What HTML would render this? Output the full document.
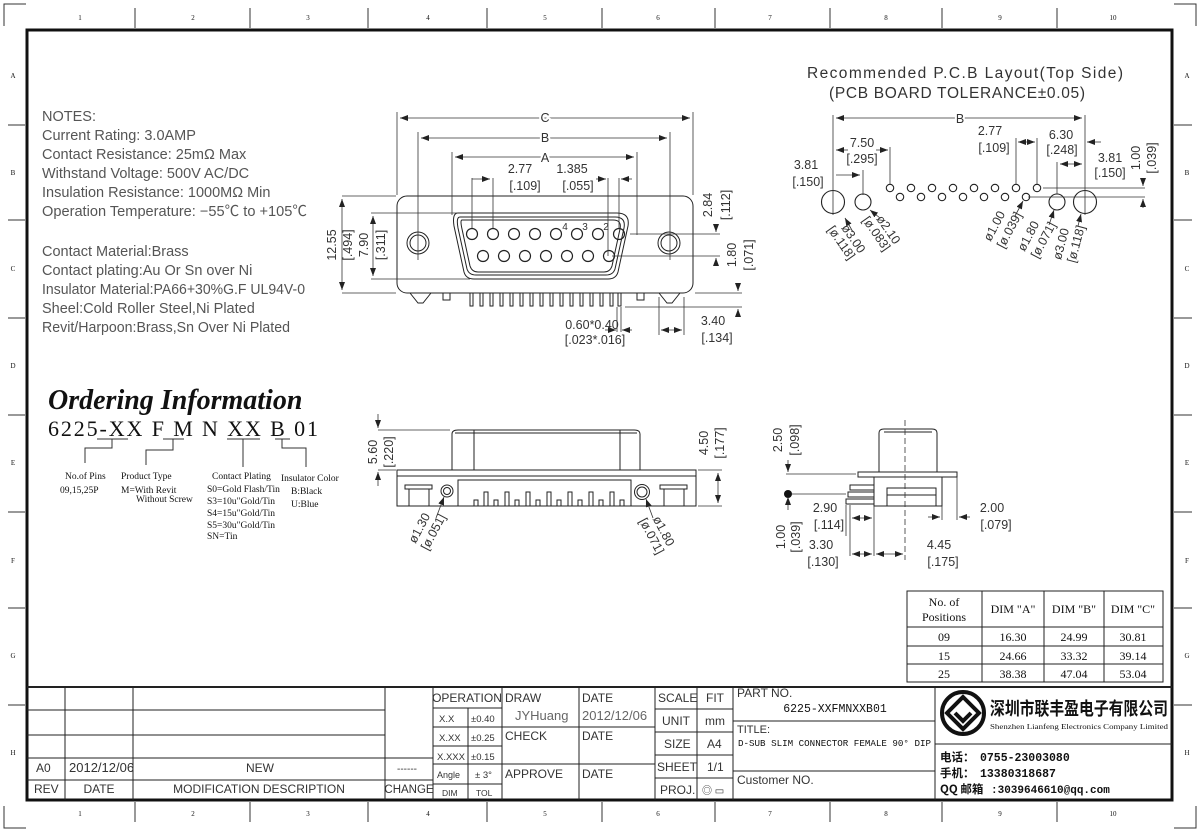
<!DOCTYPE html>
<html><head><meta charset="utf-8"><style>
html,body{margin:0;padding:0;background:#fff}
svg{display:block}
text{font-family:"Liberation Sans","Noto Sans CJK SC",sans-serif;fill:#333}
.s{font-family:"Liberation Serif","Noto Serif CJK SC",serif;fill:#111}
.m{font-family:"Liberation Mono","Noto Sans CJK SC",monospace;fill:#111}
</style></head><body>
<svg width="1200" height="832" viewBox="0 0 1200 832" xmlns="http://www.w3.org/2000/svg">
<defs><marker id="a" markerWidth="8" markerHeight="6" refX="8" refY="3" orient="auto-start-reverse" markerUnits="userSpaceOnUse"><path d="M0,0L8,3L0,6z" fill="#222"/></marker></defs>
<rect x="0" y="0" width="1200" height="832" fill="#fff"/>
<rect x="27" y="30" width="1145" height="770" fill="none" stroke="#111" stroke-width="3"/>
<g stroke="#333" stroke-width="1">
<line x1="135" y1="8" x2="135" y2="28"/><line x1="250" y1="8" x2="250" y2="28"/><line x1="368" y1="8" x2="368" y2="28"/><line x1="487" y1="8" x2="487" y2="28"/><line x1="602" y1="8" x2="602" y2="28"/><line x1="715" y1="8" x2="715" y2="28"/><line x1="830" y1="8" x2="830" y2="28"/><line x1="942" y1="8" x2="942" y2="28"/><line x1="1057" y1="8" x2="1057" y2="28"/>
<line x1="135" y1="802" x2="135" y2="822"/><line x1="250" y1="802" x2="250" y2="822"/><line x1="368" y1="802" x2="368" y2="822"/><line x1="487" y1="802" x2="487" y2="822"/><line x1="602" y1="802" x2="602" y2="822"/><line x1="715" y1="802" x2="715" y2="822"/><line x1="830" y1="802" x2="830" y2="822"/><line x1="942" y1="802" x2="942" y2="822"/><line x1="1057" y1="802" x2="1057" y2="822"/>
<line x1="8" y1="125" x2="25" y2="125"/><line x1="8" y1="220" x2="25" y2="220"/><line x1="8" y1="318" x2="25" y2="318"/><line x1="8" y1="415" x2="25" y2="415"/><line x1="8" y1="512" x2="25" y2="512"/><line x1="8" y1="608" x2="25" y2="608"/><line x1="8" y1="705" x2="25" y2="705"/>
<line x1="1174" y1="125" x2="1192" y2="125"/><line x1="1174" y1="220" x2="1192" y2="220"/><line x1="1174" y1="318" x2="1192" y2="318"/><line x1="1174" y1="415" x2="1192" y2="415"/><line x1="1174" y1="512" x2="1192" y2="512"/><line x1="1174" y1="608" x2="1192" y2="608"/><line x1="1174" y1="705" x2="1192" y2="705"/>
<polyline points="4,26 4,4 26,4" fill="none"/><polyline points="1174,4 1196,4 1196,26" fill="none"/><polyline points="4,806 4,828 26,828" fill="none"/><polyline points="1174,828 1196,828 1196,806" fill="none"/>
</g>
<g font-size="7" text-anchor="middle" class="s">
<text class="s" x="80" y="20">1</text><text class="s" x="193" y="20">2</text><text class="s" x="308" y="20">3</text><text class="s" x="428" y="20">4</text><text class="s" x="545" y="20">5</text><text class="s" x="658" y="20">6</text><text class="s" x="770" y="20">7</text><text class="s" x="886" y="20">8</text><text class="s" x="1000" y="20">9</text><text class="s" x="1113" y="20">10</text>
<text class="s" x="80" y="816">1</text><text class="s" x="193" y="816">2</text><text class="s" x="308" y="816">3</text><text class="s" x="428" y="816">4</text><text class="s" x="545" y="816">5</text><text class="s" x="658" y="816">6</text><text class="s" x="770" y="816">7</text><text class="s" x="886" y="816">8</text><text class="s" x="1000" y="816">9</text><text class="s" x="1113" y="816">10</text>
<text class="s" x="13" y="78">A</text><text class="s" x="13" y="175">B</text><text class="s" x="13" y="271">C</text><text class="s" x="13" y="368">D</text><text class="s" x="13" y="465">E</text><text class="s" x="13" y="563">F</text><text class="s" x="13" y="658">G</text><text class="s" x="13" y="755">H</text>
<text class="s" x="1187" y="78">A</text><text class="s" x="1187" y="175">B</text><text class="s" x="1187" y="271">C</text><text class="s" x="1187" y="368">D</text><text class="s" x="1187" y="465">E</text><text class="s" x="1187" y="563">F</text><text class="s" x="1187" y="658">G</text><text class="s" x="1187" y="755">H</text>
</g>

<g font-size="14.5" style="fill:#555">
<text x="42" y="121" style="fill:#555">NOTES:</text>
<text x="42" y="140" style="fill:#555">Current Rating: 3.0AMP</text>
<text x="42" y="159" style="fill:#555">Contact Resistance: 25mΩ Max</text>
<text x="42" y="178" style="fill:#555">Withstand Voltage: 500V AC/DC</text>
<text x="42" y="197" style="fill:#555">Insulation Resistance: 1000MΩ Min</text>
<text x="42" y="216" style="fill:#555" textLength="265" lengthAdjust="spacingAndGlyphs">Operation Temperature: −55℃ to +105℃</text>
<text x="42" y="256" style="fill:#555">Contact Material:Brass</text>
<text x="42" y="275" style="fill:#555">Contact plating:Au Or Sn over Ni</text>
<text x="42" y="294" style="fill:#555" textLength="263" lengthAdjust="spacingAndGlyphs">Insulator Material:PA66+30%G.F UL94V-0</text>
<text x="42" y="313" style="fill:#555">Sheel:Cold Roller Steel,Ni Plated</text>
<text x="42" y="332" style="fill:#555" textLength="248" lengthAdjust="spacingAndGlyphs">Revit/Harpoon:Brass,Sn Over Ni Plated</text>
</g>

<text class="s" x="48" y="409" font-size="28" font-weight="bold" font-style="italic">Ordering Information</text>
<text class="s" x="48" y="436" font-size="22" textLength="270" lengthAdjust="spacing">6225-XX F M N XX B 01</text>
<g stroke="#333" fill="none" stroke-width="1">
<line x1="97" y1="439" x2="128" y2="439"/><line x1="163" y1="439" x2="184" y2="439"/><line x1="227" y1="439" x2="260" y2="439"/><line x1="275" y1="439" x2="290" y2="439"/>
<polyline points="112,439 112,448 85,448 85,463"/><polyline points="173,439 173,450 146,450 146,465"/><polyline points="243,439 243,467"/><polyline points="282,439 282,448 306,448 306,467"/>
</g>
<g class="s" font-size="9.5">
<text class="s" x="65" y="479">No.of Pins</text><text class="s" x="60" y="493">09,15,25P</text>
<text class="s" x="121" y="479">Product Type</text><text class="s" x="121" y="493">M=With Revit</text><text class="s" x="136" y="502">Without Screw</text>
<text class="s" x="212" y="479">Contact Plating</text><text class="s" x="207" y="492">S0=Gold Flash/Tin</text><text class="s" x="207" y="504">S3=10u"Gold/Tin</text><text class="s" x="207" y="516">S4=15u"Gold/Tin</text><text class="s" x="207" y="528">S5=30u"Gold/Tin</text><text class="s" x="207" y="539">SN=Tin</text>
<text class="s" x="281" y="481">Insulator Color</text><text class="s" x="291" y="494">B:Black</text><text class="s" x="291" y="507">U:Blue</text>
</g>

<g stroke="#222" fill="none" stroke-width="1">
<rect x="397" y="196" width="296" height="97" rx="10"/>
<circle cx="418" cy="243" r="11"/><circle cx="418" cy="243" r="8"/>
<circle cx="669" cy="243" r="11"/><circle cx="669" cy="243" r="8"/>
<path d="M458,213 L617,213 Q630,213 628,226 L618,272 Q616,279 608,279 L474,279 Q466,279 464,272 L454,226 Q452,213 458,213Z"/>
<path d="M460,217 L615,217 Q626,217 624,228 L615,269 Q613,275 606,275 L476,275 Q469,275 467,269 L458,228 Q456,217 460,217Z"/>
<path d="M462,220 L613,220 Q622,220 620,229 L612,266 Q610,272 604,272 L478,272 Q472,272 470,266 L462,229 Q460,220 462,220Z"/>
<g stroke-width="1.2">
<circle cx="472" cy="234" r="5.5"/><circle cx="493" cy="234" r="5.5"/><circle cx="514" cy="234" r="5.5"/><circle cx="535" cy="234" r="5.5"/><circle cx="556" cy="234" r="5.5"/><circle cx="577" cy="234" r="5.5"/><circle cx="598" cy="234" r="5.5"/><circle cx="619" cy="234" r="5.5"/>
<circle cx="483" cy="256" r="5.5"/><circle cx="504" cy="256" r="5.5"/><circle cx="525" cy="256" r="5.5"/><circle cx="546" cy="256" r="5.5"/><circle cx="567" cy="256" r="5.5"/><circle cx="588" cy="256" r="5.5"/><circle cx="609" cy="256" r="5.5"/>
</g>
<path d="M410,293 L418,303 L423,303 L431,293"/><path d="M659,293 L667,303 L672,303 L680,293"/>
<rect x="443" y="293" width="7" height="7"/><rect x="637" y="293" width="7" height="7"/>
<path d="M470,293 v13 h3 v-13 M480,293 v13 h3 v-13 M490,293 v13 h3 v-13 M500,293 v13 h3 v-13 M510,293 v13 h3 v-13 M520,293 v13 h3 v-13 M530,293 v13 h3 v-13 M540,293 v13 h3 v-13 M550,293 v13 h3 v-13 M560,293 v13 h3 v-13 M570,293 v13 h3 v-13 M580,293 v13 h3 v-13 M590,293 v13 h3 v-13 M600,293 v13 h3 v-13 M610,293 v13 h3 v-13 M618,293 v13 h3 v-13"/>
</g>
<g stroke="#333" stroke-width="0.8" fill="none">
<line x1="397" y1="112" x2="397" y2="195"/><line x1="693" y1="112" x2="693" y2="195"/>
<line x1="418" y1="132" x2="418" y2="260"/><line x1="670" y1="132" x2="670" y2="260"/>
<line x1="452" y1="152" x2="452" y2="215"/><line x1="637" y1="152" x2="637" y2="235"/>
<line x1="400" y1="118" x2="690" y2="118" marker-start="url(#a)" marker-end="url(#a)"/>
<line x1="421" y1="138" x2="667" y2="138" marker-start="url(#a)" marker-end="url(#a)"/>
<line x1="455" y1="157" x2="634" y2="157" marker-start="url(#a)" marker-end="url(#a)"/>
<line x1="472" y1="178" x2="472" y2="228"/><line x1="493" y1="178" x2="493" y2="228"/>
<line x1="472" y1="179" x2="490" y2="179" marker-end="url(#a)"/>
<line x1="608" y1="178" x2="608" y2="256"/><line x1="619" y1="178" x2="619" y2="228"/>
<line x1="596" y1="179" x2="606" y2="179" marker-end="url(#a)"/><line x1="632" y1="179" x2="621" y2="179" marker-end="url(#a)"/>
<line x1="342" y1="196" x2="396" y2="196"/><line x1="342" y1="293" x2="396" y2="293"/>
<line x1="342" y1="199" x2="342" y2="290" marker-start="url(#a)" marker-end="url(#a)"/>
<line x1="371" y1="213" x2="458" y2="213"/><line x1="371" y1="279" x2="470" y2="279"/>
<line x1="373" y1="216" x2="373" y2="276" marker-start="url(#a)" marker-end="url(#a)"/>
<line x1="630" y1="234" x2="720" y2="234"/><line x1="612" y1="256" x2="720" y2="256"/>
<line x1="716" y1="226" x2="716" y2="232" marker-end="url(#a)"/><line x1="716" y1="264" x2="716" y2="258" marker-end="url(#a)"/>
<line x1="695" y1="293" x2="742" y2="293"/><line x1="625" y1="307" x2="742" y2="307"/>
<line x1="738" y1="285" x2="738" y2="291" marker-end="url(#a)"/><line x1="738" y1="316" x2="738" y2="309" marker-end="url(#a)"/>
<line x1="617" y1="307" x2="617" y2="332"/><line x1="621" y1="307" x2="621" y2="332"/>
<line x1="605" y1="330" x2="616" y2="330" marker-end="url(#a)"/><line x1="632" y1="330" x2="622" y2="330" marker-end="url(#a)"/>
<line x1="659" y1="297" x2="659" y2="335"/><line x1="684" y1="297" x2="684" y2="335"/>
<line x1="661" y1="330" x2="682" y2="330" marker-start="url(#a)" marker-end="url(#a)"/>
</g>
<g font-size="12.5" text-anchor="middle">
<text x="545" y="122" style="paint-order:stroke" stroke="#fff" stroke-width="4">C</text>
<text x="545" y="142" style="paint-order:stroke" stroke="#fff" stroke-width="4">B</text>
<text x="545" y="162" style="paint-order:stroke" stroke="#fff" stroke-width="4">A</text>
<text x="520" y="173">2.77</text><text x="525" y="190">[.109]</text>
<text x="572" y="173">1.385</text><text x="578" y="190">[.055]</text>
<text x="592" y="329">0.60*0.40</text><text x="595" y="344">[.023*.016]</text>
<text x="713" y="325">3.40</text><text x="717" y="342">[.134]</text>
<text x="565" y="230" font-size="10">4</text><text x="585" y="230" font-size="10">3</text><text x="606" y="230" font-size="10">2</text>
<text transform="translate(336,245) rotate(-90)">12.55</text><text transform="translate(352,245) rotate(-90)">[.494]</text>
<text transform="translate(368,245) rotate(-90)">7.90</text><text transform="translate(385,245) rotate(-90)">[.311]</text>
<text transform="translate(712,205) rotate(-90)">2.84</text><text transform="translate(730,205) rotate(-90)">[.112]</text>
<text transform="translate(736,255) rotate(-90)">1.80</text><text transform="translate(753,255) rotate(-90)">[.071]</text>
</g>

<g font-size="15.5" text-anchor="middle">
<text x="965" y="78" textLength="316" lengthAdjust="spacing">Recommended P.C.B Layout(Top Side)</text>
<text x="957" y="98" textLength="256" lengthAdjust="spacing">(PCB BOARD TOLERANCE±0.05)</text>
</g>
<g stroke="#222" fill="none" stroke-width="1.1">
<circle cx="833" cy="202" r="11.5"/><circle cx="863" cy="202" r="8"/>
<circle cx="890" cy="188" r="3.7"/><circle cx="900" cy="197" r="3.7"/><circle cx="911" cy="188" r="3.7"/><circle cx="921" cy="197" r="3.7"/><circle cx="932" cy="188" r="3.7"/><circle cx="942" cy="197" r="3.7"/><circle cx="953" cy="188" r="3.7"/><circle cx="963" cy="197" r="3.7"/><circle cx="974" cy="188" r="3.7"/><circle cx="984" cy="197" r="3.7"/><circle cx="995" cy="188" r="3.7"/><circle cx="1005" cy="197" r="3.7"/><circle cx="1016" cy="188" r="3.7"/><circle cx="1026" cy="197" r="3.7"/><circle cx="1037" cy="188" r="3.7"/>
<circle cx="1057" cy="202" r="8"/><circle cx="1085" cy="202" r="11.5"/>
</g>
<g stroke="#333" stroke-width="0.8" fill="none">
<line x1="833" y1="115" x2="833" y2="215"/><line x1="1085" y1="115" x2="1085" y2="215"/>
<line x1="836" y1="118" x2="1082" y2="118" marker-start="url(#a)" marker-end="url(#a)"/>
<line x1="863" y1="170" x2="863" y2="195"/><line x1="836" y1="175" x2="860" y2="175" marker-end="url(#a)"/>
<line x1="890" y1="147" x2="890" y2="184"/><line x1="836" y1="150" x2="848" y2="150" marker-start="url(#a)"/><line x1="876" y1="150" x2="888" y2="150" marker-end="url(#a)"/>
<line x1="1016" y1="138" x2="1016" y2="184"/><line x1="1037" y1="138" x2="1037" y2="184"/>
<line x1="1018" y1="142" x2="1035" y2="142" marker-start="url(#a)" marker-end="url(#a)"/>
<line x1="1101" y1="142" x2="1087" y2="142" marker-end="url(#a)"/>
<line x1="1057" y1="162" x2="1057" y2="194"/><line x1="1060" y1="164" x2="1082" y2="164" marker-start="url(#a)" marker-end="url(#a)"/>
<line x1="1043" y1="188" x2="1145" y2="188"/><line x1="1028" y1="197" x2="1145" y2="197"/>
<line x1="1143" y1="178" x2="1143" y2="186" marker-end="url(#a)"/><line x1="1143" y1="208" x2="1143" y2="199" marker-end="url(#a)"/>
<line x1="845" y1="218" x2="853" y2="232" marker-start="url(#a)"/><line x1="870" y1="210" x2="880" y2="218" marker-start="url(#a)"/>
<line x1="1023" y1="201" x2="1015" y2="216" marker-start="url(#a)"/><line x1="1054" y1="210" x2="1049" y2="225" marker-start="url(#a)"/><line x1="1081" y1="214" x2="1078" y2="226" marker-start="url(#a)"/>
</g>
<g font-size="12.5" text-anchor="middle">
<text x="960" y="123" style="paint-order:stroke" stroke="#fff" stroke-width="4">B</text>
<text x="862" y="147">7.50</text><text x="862" y="163">[.295]</text>
<text x="806" y="169">3.81</text><text x="808" y="186">[.150]</text>
<text x="990" y="135">2.77</text><text x="994" y="152">[.109]</text>
<text x="1061" y="139">6.30</text><text x="1062" y="154">[.248]</text>
<text x="1110" y="162">3.81</text><text x="1110" y="177">[.150]</text>
<text transform="translate(1140,158) rotate(-90)">1.00</text><text transform="translate(1156,158) rotate(-90)">[.039]</text>
<text transform="translate(850,241) rotate(55)">ø3.00</text><text transform="translate(838,245) rotate(55)">[ø.118]</text>
<text transform="translate(885,232) rotate(55)">ø2.10</text><text transform="translate(873,236) rotate(55)">[ø.083]</text>
<text transform="translate(998,228) rotate(-62)">ø1.00</text><text transform="translate(1013,232) rotate(-62)">[ø.039]</text>
<text transform="translate(1032,238) rotate(-62)">ø1.80</text><text transform="translate(1047,242) rotate(-62)">[ø.071]</text>
<text transform="translate(1065,245) rotate(-75)">ø3.00</text><text transform="translate(1080,245) rotate(-75)">[ø.118]</text>
</g>

<g stroke="#222" fill="none" stroke-width="1">
<path d="M452,470 V434 Q452,430 458,430 H634 Q640,430 640,434 V470"/>
<line x1="455" y1="433" x2="637" y2="433"/><line x1="474" y1="430" x2="474" y2="470"/><line x1="620" y1="430" x2="620" y2="470"/>
<rect x="397" y="470" width="299" height="6"/><rect x="397" y="476" width="299" height="30"/>
<rect x="405" y="485" width="27" height="4"/><rect x="409" y="489" width="20" height="17"/>
<rect x="660" y="485" width="27" height="4"/><rect x="664" y="489" width="20" height="17"/>
<circle cx="447" cy="491" r="6"/><circle cx="447" cy="491" r="3.5"/>
<circle cx="642" cy="492" r="7.5"/><circle cx="642" cy="492" r="5"/>
<rect x="458" y="480" width="173" height="26"/>
<path d="M474,506v-6h4v6 M484,506v-14h4v14 M494,506v-6h4v6 M505,506v-14h4v14 M515,506v-6h4v6 M526,506v-14h4v14 M536,506v-6h4v6 M547,506v-14h4v14 M557,506v-6h4v6 M568,506v-14h4v14 M578,506v-6h4v6 M589,506v-14h4v14 M599,506v-6h4v6 M610,506v-14h4v14 M620,506v-6h4v6"/>
</g>
<g stroke="#333" stroke-width="0.8" fill="none">
<line x1="378" y1="430" x2="450" y2="430"/><line x1="378" y1="470" x2="396" y2="470"/>
<line x1="378" y1="414" x2="378" y2="428" marker-end="url(#a)"/><line x1="378" y1="486" x2="378" y2="472" marker-end="url(#a)"/>
<line x1="698" y1="470" x2="722" y2="470"/><line x1="698" y1="506" x2="722" y2="506"/>
<line x1="718" y1="473" x2="718" y2="503" marker-start="url(#a)" marker-end="url(#a)"/>
<line x1="444" y1="497" x2="436" y2="518" marker-start="url(#a)"/><line x1="646" y1="499" x2="653" y2="518" marker-start="url(#a)"/>
</g>
<g font-size="12.5" text-anchor="middle">
<text transform="translate(377,452) rotate(-90)">5.60</text><text transform="translate(393,452) rotate(-90)">[.220]</text>
<text transform="translate(708,443) rotate(-90)">4.50</text><text transform="translate(724,443) rotate(-90)">[.177]</text>
<text transform="translate(423,530) rotate(-62)">ø1.30</text><text transform="translate(437,534) rotate(-62)">[ø.051]</text>
<text transform="translate(660,533) rotate(62)">ø1.80</text><text transform="translate(648,538) rotate(62)">[ø.071]</text>
</g>

<g stroke="#222" fill="none" stroke-width="1">
<path d="M879,472 V433 Q879,429 884,429 H932 Q937,429 937,433 V472"/>
<line x1="884" y1="432" x2="932" y2="432"/>
<rect x="858" y="472" width="99" height="5"/>
<rect x="874" y="477" width="68" height="29"/>
<rect x="887" y="488" width="49" height="18"/><line x1="887" y1="495" x2="936" y2="495"/>
<path d="M874,485 H850 V490 H874 M874,492 H848 V497 H874 M874,499 H846 V504 H874"/>
</g>
<circle cx="788" cy="494" r="4" fill="#111"/>
<g stroke="#333" stroke-width="0.8" fill="none">
<line x1="905" y1="420" x2="905" y2="560" stroke-dasharray="6,3"/>
<line x1="786" y1="474" x2="856" y2="474"/><line x1="792" y1="494" x2="846" y2="494"/>
<line x1="788" y1="460" x2="788" y2="472" marker-end="url(#a)"/><line x1="788" y1="510" x2="788" y2="497" marker-end="url(#a)"/>
<line x1="850" y1="505" x2="850" y2="556"/><line x1="874" y1="506" x2="874" y2="556"/><line x1="846" y1="505" x2="846" y2="536"/>
<line x1="852" y1="518" x2="872" y2="518" marker-start="url(#a)" marker-end="url(#a)"/>
<line x1="852" y1="554" x2="872" y2="554" marker-start="url(#a)" marker-end="url(#a)"/>
<line x1="876" y1="554" x2="903" y2="554" marker-start="url(#a)" marker-end="url(#a)"/>
<line x1="942" y1="506" x2="942" y2="520"/><line x1="957" y1="477" x2="957" y2="520"/>
<line x1="928" y1="517" x2="940" y2="517" marker-end="url(#a)"/><line x1="970" y1="517" x2="959" y2="517" marker-end="url(#a)"/>
</g>
<g font-size="12.5" text-anchor="middle">
<text transform="translate(782,440) rotate(-90)">2.50</text><text transform="translate(799,440) rotate(-90)">[.098]</text>
<text x="825" y="512">2.90</text><text x="829" y="529">[.114]</text>
<text transform="translate(785,537) rotate(-90)">1.00</text><text transform="translate(800,537) rotate(-90)">[.039]</text>
<text x="821" y="549">3.30</text><text x="823" y="566">[.130]</text>
<text x="939" y="549">4.45</text><text x="943" y="566">[.175]</text>
<text x="992" y="512">2.00</text><text x="996" y="529">[.079]</text>
</g>

<g stroke="#222" stroke-width="1" fill="none">
<rect x="907" y="591" width="256" height="91"/>
<line x1="982" y1="591" x2="982" y2="682"/><line x1="1044" y1="591" x2="1044" y2="682"/><line x1="1104" y1="591" x2="1104" y2="682"/>
<line x1="907" y1="627" x2="1163" y2="627"/><line x1="907" y1="646" x2="1163" y2="646"/><line x1="907" y1="664" x2="1163" y2="664"/>
</g>
<g class="s" font-size="12" text-anchor="middle">
<text class="s" x="944" y="606">No. of</text><text class="s" x="944" y="621">Positions</text>
<text class="s" x="1013" y="613">DIM "A"</text><text class="s" x="1074" y="613">DIM "B"</text><text class="s" x="1133" y="613">DIM "C"</text>
<text class="s" x="944" y="641">09</text><text class="s" x="1013" y="641">16.30</text><text class="s" x="1074" y="641">24.99</text><text class="s" x="1133" y="641">30.81</text>
<text class="s" x="944" y="660">15</text><text class="s" x="1013" y="660">24.66</text><text class="s" x="1074" y="660">33.32</text><text class="s" x="1133" y="660">39.14</text>
<text class="s" x="944" y="678">25</text><text class="s" x="1013" y="678">38.38</text><text class="s" x="1074" y="678">47.04</text><text class="s" x="1133" y="678">53.04</text>
</g>

<g stroke="#222" stroke-width="1" fill="none">
<line x1="27" y1="687" x2="1172" y2="687" stroke-width="2"/>
<line x1="65" y1="687" x2="65" y2="800"/><line x1="133" y1="687" x2="133" y2="800"/><line x1="385" y1="687" x2="385" y2="800"/><line x1="433" y1="687" x2="433" y2="800"/>
<line x1="27" y1="710" x2="385" y2="710"/><line x1="27" y1="735" x2="385" y2="735"/><line x1="27" y1="758" x2="433" y2="758"/><line x1="27" y1="780" x2="433" y2="780"/>
<line x1="502" y1="687" x2="502" y2="800"/><line x1="468" y1="708" x2="468" y2="800"/>
<line x1="433" y1="708" x2="502" y2="708"/><line x1="433" y1="727" x2="502" y2="727"/><line x1="433" y1="746" x2="502" y2="746"/><line x1="433" y1="764" x2="502" y2="764"/><line x1="433" y1="784" x2="502" y2="784"/>
<line x1="579" y1="687" x2="579" y2="800"/><line x1="655" y1="687" x2="655" y2="800"/>
<line x1="502" y1="727" x2="655" y2="727"/><line x1="502" y1="764" x2="655" y2="764"/>
<line x1="697" y1="687" x2="697" y2="800"/><line x1="733" y1="687" x2="733" y2="800"/>
<line x1="655" y1="709" x2="733" y2="709"/><line x1="655" y1="732" x2="733" y2="732"/><line x1="655" y1="755" x2="733" y2="755"/><line x1="655" y1="778" x2="733" y2="778"/>
<line x1="733" y1="721" x2="935" y2="721"/><line x1="733" y1="771" x2="935" y2="771"/>
<line x1="935" y1="687" x2="935" y2="800"/><line x1="935" y1="744" x2="1172" y2="744"/>
</g>
<g font-size="12">
<text x="36" y="772">A0</text><text x="69" y="772" font-size="13">2012/12/06</text><text x="260" y="772" text-anchor="middle">NEW</text><text x="397" y="772" font-size="10">------</text>
<text x="34" y="793">REV</text><text x="99" y="793" text-anchor="middle">DATE</text><text x="259" y="793" text-anchor="middle">MODIFICATION  DESCRIPTION</text><text x="409" y="793" text-anchor="middle" font-size="11.5">CHANGE</text>
<text x="467" y="702" text-anchor="middle">OPERATION</text>
<text x="439" y="722" font-size="9.5">X.X</text><text x="471" y="722" font-size="9.5">±0.40</text>
<text x="439" y="741" font-size="9.5">X.XX</text><text x="471" y="741" font-size="9.5">±0.25</text>
<text x="437" y="760" font-size="9.5">X.XXX</text><text x="471" y="760" font-size="9.5">±0.15</text>
<text x="437" y="778" font-size="9">Angle</text><text x="475" y="778" font-size="9.5">±  3°</text>
<text x="442" y="796" font-size="8.5">DIM</text><text x="476" y="796" font-size="8.5">TOL</text>
<text x="505" y="702">DRAW</text><text x="515" y="720" style="fill:#666" font-size="13">JYHuang</text>
<text x="505" y="740">CHECK</text><text x="505" y="778">APPROVE</text>
<text x="582" y="702">DATE</text><text x="582" y="720" style="fill:#666" font-size="13">2012/12/06</text>
<text x="582" y="740">DATE</text><text x="582" y="778">DATE</text>
<text x="658" y="702">SCALE</text><text x="706" y="702">FIT</text>
<text x="662" y="725">UNIT</text><text x="705" y="725">mm</text>
<text x="664" y="748">SIZE</text><text x="707" y="748">A4</text>
<text x="657" y="771">SHEET</text><text x="707" y="771">1/1</text>
<text x="660" y="794">PROJ.</text><text x="702" y="794" font-size="10">◎ ▭</text>
<text x="737" y="697">PART  NO.</text>
<text class="m" x="835" y="712" text-anchor="middle" font-size="11.5">6225-XXFMNXXB01</text>
<text x="737" y="733" font-size="11">TITLE:</text>
<text class="m" x="738" y="746" font-size="9" textLength="193" lengthAdjust="spacingAndGlyphs">D-SUB SLIM CONNECTOR FEMALE 90° DIP</text>
<text x="737" y="784">Customer  NO.</text>
</g>
<g>
<circle cx="963" cy="713" r="21" fill="none" stroke="#111" stroke-width="4"/>
<path d="M963,697 L979,713 L963,729 L947,713Z" fill="none" stroke="#111" stroke-width="4"/>
<path d="M955,713 L963,721 L971,713" fill="none" stroke="#111" stroke-width="4"/>
</g>
<text x="990" y="715" font-size="18" font-weight="bold" style="fill:#111;font-family:'Noto Sans CJK SC',sans-serif" textLength="178" lengthAdjust="spacingAndGlyphs">深圳市联丰盈电子有限公司</text>
<text class="s" x="990" y="729" font-size="7.5" textLength="178" lengthAdjust="spacingAndGlyphs">Shenzhen Lianfeng Electronics Company Limited</text>
<g font-size="11.5" font-weight="bold">
<text x="940" y="761" style="fill:#111;font-family:'Noto Sans CJK SC',sans-serif">电话：</text><text class="m" x="980" y="761" font-weight="bold">0755-23003080</text>
<text x="940" y="777" style="fill:#111;font-family:'Noto Sans CJK SC',sans-serif">手机：</text><text class="m" x="980" y="777" font-weight="bold">13380318687</text>
<text x="940" y="793" style="fill:#111;font-family:'Noto Sans CJK SC',sans-serif">QQ 邮箱</text><text class="m" x="991" y="793" font-weight="bold" font-size="11">:3039646610@qq.com</text>
</g>
</svg>
</body></html>
